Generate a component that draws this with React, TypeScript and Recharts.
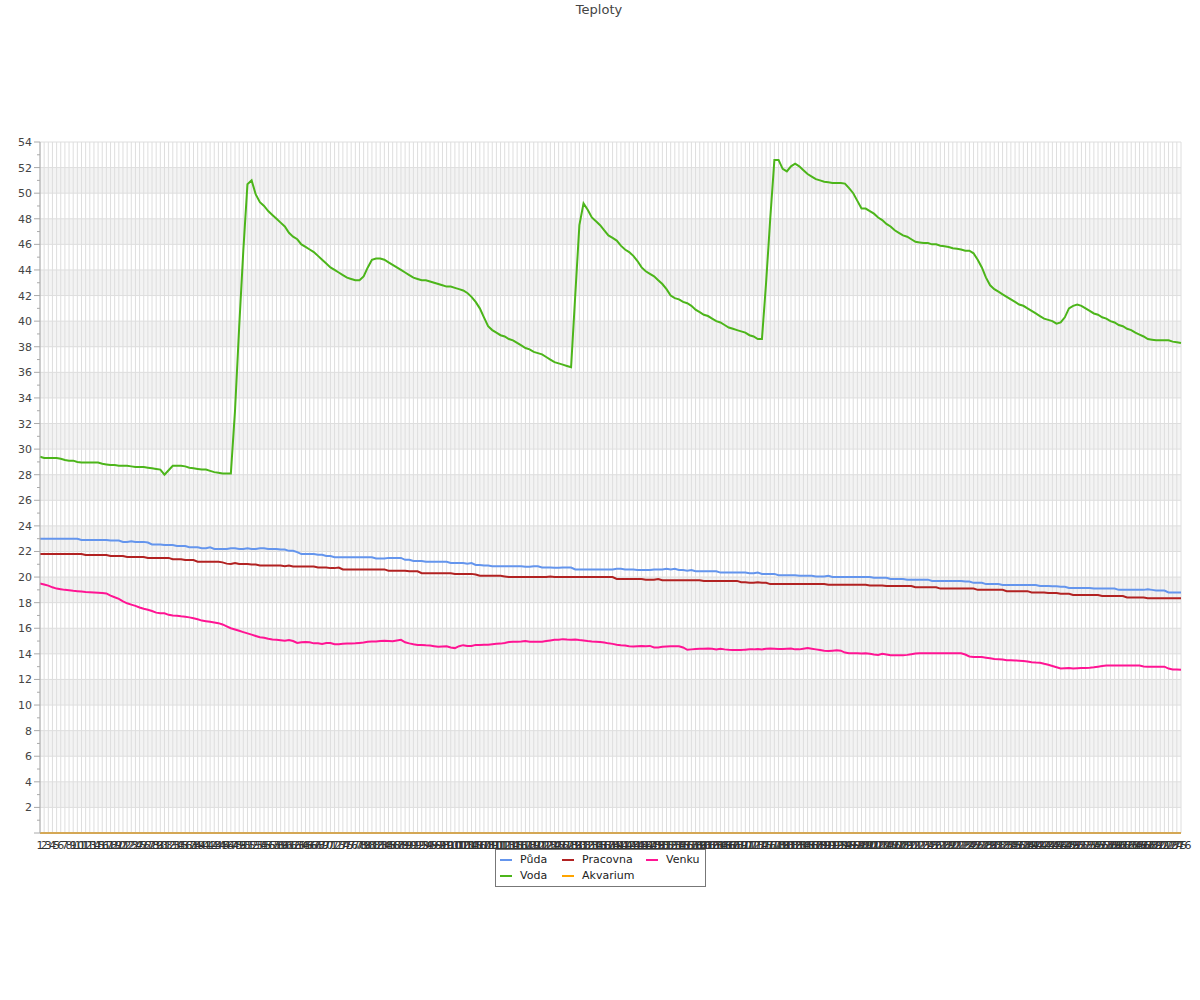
import React from 'react';
import { CartesianGrid, Legend, Line, LineChart, XAxis, YAxis } from 'recharts';

// one reading per category, labels are the sample number
const labels: number[] = Array.from({ length: 276 }, (_, i) => i + 1);

const puda: number[] = [
  23.0, 23.0, 23.0, 23.0, 23.0, 23.0, 23.0, 23.0, 23.0, 23.0,
  22.9, 22.9, 22.9, 22.9, 22.9, 22.9, 22.9, 22.85, 22.85, 22.85,
  22.75, 22.75, 22.8, 22.75, 22.75, 22.75, 22.7, 22.55, 22.55, 22.55,
  22.5, 22.5, 22.5, 22.43, 22.43, 22.43, 22.33, 22.33, 22.33, 22.25,
  22.25, 22.33, 22.2, 22.2, 22.2, 22.2, 22.25, 22.25, 22.2, 22.2,
  22.25, 22.2, 22.2, 22.25, 22.25, 22.2, 22.2, 22.2, 22.15, 22.15,
  22.05, 22.05, 21.95, 21.8, 21.8, 21.8, 21.8, 21.75, 21.75, 21.65,
  21.65, 21.55, 21.55, 21.55, 21.55, 21.55, 21.55, 21.55, 21.55, 21.55,
  21.55, 21.45, 21.45, 21.45, 21.5, 21.5, 21.5, 21.5, 21.35, 21.35,
  21.25, 21.25, 21.25, 21.2, 21.2, 21.2, 21.2, 21.2, 21.2, 21.1,
  21.1, 21.1, 21.1, 21.05, 21.1, 20.95, 20.95, 20.9, 20.9, 20.85,
  20.85, 20.85, 20.85, 20.85, 20.85, 20.85, 20.85, 20.8, 20.8, 20.85,
  20.85, 20.75, 20.75, 20.75, 20.72, 20.72, 20.75, 20.75, 20.75, 20.6,
  20.6, 20.6, 20.6, 20.6, 20.6, 20.6, 20.6, 20.6, 20.6, 20.65,
  20.65, 20.6, 20.6, 20.6, 20.55, 20.55, 20.55, 20.55, 20.6, 20.6,
  20.6, 20.65, 20.6, 20.65, 20.55, 20.55, 20.5, 20.55, 20.45, 20.45,
  20.45, 20.45, 20.45, 20.45, 20.35, 20.35, 20.35, 20.35, 20.35, 20.35,
  20.35, 20.3, 20.3, 20.35, 20.25, 20.25, 20.25, 20.25, 20.15, 20.15,
  20.15, 20.15, 20.15, 20.1, 20.1, 20.1, 20.1, 20.05, 20.05, 20.05,
  20.1, 20.0, 20.0, 20.0, 20.0, 20.0, 20.0, 20.0, 20.0, 20.0,
  20.0, 19.95, 19.95, 19.95, 19.95, 19.85, 19.85, 19.85, 19.85, 19.8,
  19.8, 19.8, 19.8, 19.8, 19.8, 19.7, 19.7, 19.7, 19.7, 19.7,
  19.7, 19.7, 19.7, 19.65, 19.65, 19.55, 19.55, 19.55, 19.45, 19.45,
  19.45, 19.45, 19.38, 19.38, 19.38, 19.38, 19.38, 19.38, 19.38, 19.38,
  19.38, 19.3, 19.3, 19.3, 19.28, 19.28, 19.25, 19.25, 19.15, 19.15,
  19.15, 19.15, 19.15, 19.15, 19.1, 19.1, 19.1, 19.1, 19.1, 19.1,
  19.0, 19.0, 19.0, 19.0, 19.0, 19.0, 19.0, 19.05, 19.0, 18.95,
  18.95, 18.95, 18.8, 18.8, 18.8, 18.8,
];

const pracovna: number[] = [
  21.8, 21.8, 21.8, 21.8, 21.8, 21.8, 21.8, 21.8, 21.8, 21.8,
  21.8, 21.73, 21.73, 21.73, 21.73, 21.73, 21.73, 21.65, 21.65, 21.65,
  21.65, 21.57, 21.57, 21.57, 21.57, 21.57, 21.5, 21.5, 21.5, 21.5,
  21.5, 21.5, 21.4, 21.4, 21.4, 21.33, 21.33, 21.33, 21.2, 21.2,
  21.2, 21.2, 21.2, 21.2, 21.15, 21.05, 21.02, 21.1, 21.02, 21.02,
  21.02, 20.98, 20.98, 20.9, 20.9, 20.9, 20.9, 20.9, 20.9, 20.85,
  20.9, 20.83, 20.83, 20.83, 20.83, 20.83, 20.83, 20.75, 20.75, 20.75,
  20.7, 20.7, 20.75, 20.6, 20.6, 20.6, 20.6, 20.6, 20.6, 20.6,
  20.6, 20.6, 20.6, 20.6, 20.5, 20.5, 20.5, 20.5, 20.5, 20.45,
  20.45, 20.45, 20.3, 20.3, 20.3, 20.3, 20.3, 20.3, 20.3, 20.3,
  20.25, 20.25, 20.25, 20.25, 20.25, 20.2, 20.1, 20.1, 20.1, 20.1,
  20.1, 20.1, 20.05, 20.0, 20.0, 20.0, 20.0, 20.0, 20.0, 20.0,
  20.0, 20.0, 20.0, 20.05, 20.0, 20.0, 20.0, 20.0, 20.0, 20.0,
  20.0, 20.0, 20.0, 20.0, 20.0, 20.0, 20.0, 20.0, 20.0, 19.85,
  19.85, 19.85, 19.85, 19.85, 19.85, 19.85, 19.8, 19.8, 19.8, 19.85,
  19.75, 19.75, 19.75, 19.75, 19.75, 19.75, 19.75, 19.75, 19.75, 19.75,
  19.7, 19.7, 19.7, 19.7, 19.7, 19.7, 19.7, 19.7, 19.7, 19.6,
  19.6, 19.55, 19.55, 19.6, 19.55, 19.55, 19.45, 19.45, 19.45, 19.45,
  19.45, 19.45, 19.45, 19.45, 19.45, 19.45, 19.45, 19.45, 19.45, 19.45,
  19.4, 19.4, 19.4, 19.4, 19.4, 19.4, 19.4, 19.4, 19.4, 19.4,
  19.35, 19.35, 19.35, 19.35, 19.3, 19.3, 19.3, 19.3, 19.3, 19.3,
  19.3, 19.2, 19.2, 19.2, 19.2, 19.2, 19.2, 19.1, 19.1, 19.1,
  19.1, 19.1, 19.1, 19.1, 19.1, 19.1, 19.0, 19.0, 19.0, 19.0,
  19.0, 19.0, 19.0, 18.9, 18.9, 18.9, 18.9, 18.9, 18.9, 18.8,
  18.8, 18.8, 18.8, 18.75, 18.75, 18.75, 18.7, 18.7, 18.7, 18.6,
  18.6, 18.6, 18.6, 18.6, 18.6, 18.6, 18.52, 18.52, 18.52, 18.52,
  18.52, 18.52, 18.4, 18.4, 18.4, 18.4, 18.4, 18.34, 18.34, 18.34,
  18.34, 18.34, 18.34, 18.34, 18.34, 18.34,
];

const venku: number[] = [
  19.5, 19.42, 19.33, 19.2, 19.1, 19.05, 19.0, 18.97, 18.93, 18.9,
  18.87, 18.84, 18.82, 18.8, 18.78, 18.75, 18.72, 18.55, 18.42, 18.3,
  18.1, 17.95, 17.85, 17.75, 17.62, 17.52, 17.45, 17.35, 17.22, 17.18,
  17.17, 17.05, 17.0, 16.97, 16.93, 16.9, 16.85, 16.78, 16.7, 16.6,
  16.55, 16.5, 16.45, 16.4, 16.3, 16.15, 16.0, 15.9, 15.8, 15.7,
  15.6, 15.5, 15.4, 15.3, 15.25, 15.18, 15.12, 15.1, 15.07, 15.02,
  15.08, 15.0, 14.85, 14.9, 14.92, 14.9, 14.82, 14.82, 14.78, 14.85,
  14.85, 14.75, 14.75, 14.78, 14.8, 14.8, 14.82, 14.85, 14.88, 14.95,
  14.97, 14.97, 15.0, 15.02, 15.0, 14.98, 15.05, 15.1, 14.9, 14.82,
  14.75, 14.7, 14.7, 14.67, 14.65, 14.6, 14.55, 14.58, 14.6, 14.5,
  14.45, 14.6, 14.68, 14.62, 14.62, 14.7, 14.7, 14.72, 14.72, 14.75,
  14.78, 14.8, 14.85, 14.92, 14.95, 14.95, 14.97, 15.0, 14.95, 14.95,
  14.95, 14.95, 15.0, 15.05, 15.1, 15.1, 15.15, 15.12, 15.1, 15.12,
  15.08, 15.05, 15.0, 14.97, 14.95, 14.92, 14.88, 14.82, 14.78, 14.72,
  14.68, 14.65, 14.6, 14.58, 14.6, 14.62, 14.6, 14.62, 14.5, 14.5,
  14.55, 14.58, 14.6, 14.6, 14.6, 14.5, 14.32, 14.35, 14.38, 14.4,
  14.4, 14.42, 14.4, 14.35, 14.4, 14.35, 14.32, 14.3, 14.3, 14.3,
  14.33, 14.35, 14.35, 14.38, 14.35, 14.4, 14.42, 14.4, 14.38, 14.38,
  14.4, 14.42, 14.35, 14.35, 14.4, 14.45, 14.4, 14.35, 14.3, 14.25,
  14.22, 14.25, 14.28, 14.25, 14.1, 14.05, 14.05, 14.05, 14.02, 14.05,
  14.0, 13.95, 13.92, 14.0, 13.95, 13.9, 13.9, 13.9, 13.9, 13.92,
  13.97, 14.02, 14.05, 14.05, 14.05, 14.05, 14.05, 14.05, 14.05, 14.05,
  14.05, 14.05, 14.05, 13.95, 13.8, 13.75, 13.75, 13.75, 13.7, 13.65,
  13.6, 13.58, 13.55, 13.5, 13.5, 13.48, 13.47, 13.45, 13.4, 13.35,
  13.32, 13.3, 13.22, 13.15, 13.05, 12.95, 12.85, 12.88, 12.9, 12.85,
  12.88, 12.9, 12.9, 12.92, 12.95, 13.0, 13.05, 13.08, 13.08, 13.08,
  13.08, 13.08, 13.08, 13.08, 13.08, 13.08, 13.02, 13.0, 13.0, 13.0,
  13.0, 13.0, 12.85, 12.78, 12.77, 12.76,
];

const voda: number[] = [
  29.4, 29.3, 29.3, 29.3, 29.3, 29.25, 29.15, 29.1, 29.1, 29.0,
  28.95, 28.95, 28.95, 28.95, 28.95, 28.85, 28.8, 28.75, 28.75, 28.7,
  28.7, 28.7, 28.65, 28.6, 28.6, 28.6, 28.55, 28.5, 28.45, 28.4,
  28.0, 28.35, 28.7, 28.7, 28.7, 28.65, 28.55, 28.5, 28.45, 28.4,
  28.4, 28.3, 28.2, 28.15, 28.1, 28.1, 28.1, 33.0, 39.5, 45.5,
  50.7, 51.0, 49.9, 49.3, 49.0, 48.6, 48.3, 48.0, 47.7, 47.4,
  46.9, 46.6, 46.4, 46.0, 45.8, 45.6, 45.4, 45.1, 44.8, 44.5,
  44.2, 44.0, 43.8, 43.6, 43.4, 43.3, 43.2, 43.2, 43.5, 44.2,
  44.8, 44.9, 44.9, 44.8, 44.6, 44.4, 44.2, 44.0, 43.8, 43.6,
  43.4, 43.3, 43.2, 43.2, 43.1, 43.0, 42.9, 42.8, 42.7, 42.7,
  42.6, 42.5, 42.4, 42.2, 41.9, 41.5, 41.0, 40.3, 39.6, 39.3,
  39.1, 38.9, 38.8, 38.6, 38.5, 38.3, 38.1, 37.9, 37.8, 37.6,
  37.5, 37.4, 37.2, 37.0, 36.8, 36.7, 36.6, 36.5, 36.4, 42.0,
  47.5, 49.2, 48.7, 48.1, 47.8, 47.5, 47.1, 46.7, 46.5, 46.3,
  45.9, 45.6, 45.4, 45.1, 44.7, 44.2, 43.9, 43.7, 43.5, 43.2,
  42.9, 42.5, 42.0, 41.8, 41.7, 41.5, 41.4, 41.2, 40.9, 40.7,
  40.5, 40.4, 40.2, 40.0, 39.9, 39.7, 39.5, 39.4, 39.3, 39.2,
  39.1, 38.9, 38.8, 38.6, 38.6, 43.0, 48.0, 52.6, 52.6, 51.9,
  51.7, 52.1, 52.3, 52.1, 51.8, 51.5, 51.3, 51.1, 51.0, 50.9,
  50.85, 50.8, 50.8, 50.8, 50.75, 50.4, 50.0, 49.4, 48.8, 48.8,
  48.6, 48.4, 48.1, 47.9, 47.6, 47.4, 47.1, 46.9, 46.7, 46.6,
  46.4, 46.2, 46.15, 46.1, 46.1, 46.0, 46.0, 45.9, 45.85, 45.8,
  45.7, 45.65, 45.6, 45.5, 45.5, 45.3, 44.8, 44.2, 43.4, 42.8,
  42.5, 42.3, 42.1, 41.9, 41.7, 41.5, 41.3, 41.2, 41.0, 40.8,
  40.6, 40.4, 40.2, 40.1, 40.0, 39.8, 39.9, 40.3, 41.0, 41.2,
  41.3, 41.2, 41.0, 40.8, 40.6, 40.5, 40.3, 40.2, 40.0, 39.9,
  39.7, 39.6, 39.4, 39.3, 39.1, 38.95, 38.8, 38.6, 38.55, 38.5,
  38.5, 38.5, 38.5, 38.4, 38.35, 38.3,
];

const akvarium: number[] = [
  0, 0, 0, 0, 0, 0, 0, 0, 0, 0, 0, 0, 0, 0, 0, 0, 0, 0, 0, 0,
  0, 0, 0, 0, 0, 0, 0, 0, 0, 0, 0, 0, 0, 0, 0, 0, 0, 0, 0, 0,
  0, 0, 0, 0, 0, 0, 0, 0, 0, 0, 0, 0, 0, 0, 0, 0, 0, 0, 0, 0,
  0, 0, 0, 0, 0, 0, 0, 0, 0, 0, 0, 0, 0, 0, 0, 0, 0, 0, 0, 0,
  0, 0, 0, 0, 0, 0, 0, 0, 0, 0, 0, 0, 0, 0, 0, 0, 0, 0, 0, 0,
  0, 0, 0, 0, 0, 0, 0, 0, 0, 0, 0, 0, 0, 0, 0, 0, 0, 0, 0, 0,
  0, 0, 0, 0, 0, 0, 0, 0, 0, 0, 0, 0, 0, 0, 0, 0, 0, 0, 0, 0,
  0, 0, 0, 0, 0, 0, 0, 0, 0, 0, 0, 0, 0, 0, 0, 0, 0, 0, 0, 0,
  0, 0, 0, 0, 0, 0, 0, 0, 0, 0, 0, 0, 0, 0, 0, 0, 0, 0, 0, 0,
  0, 0, 0, 0, 0, 0, 0, 0, 0, 0, 0, 0, 0, 0, 0, 0, 0, 0, 0, 0,
  0, 0, 0, 0, 0, 0, 0, 0, 0, 0, 0, 0, 0, 0, 0, 0, 0, 0, 0, 0,
  0, 0, 0, 0, 0, 0, 0, 0, 0, 0, 0, 0, 0, 0, 0, 0, 0, 0, 0, 0,
  0, 0, 0, 0, 0, 0, 0, 0, 0, 0, 0, 0, 0, 0, 0, 0, 0, 0, 0, 0,
  0, 0, 0, 0, 0, 0, 0, 0, 0, 0, 0, 0, 0, 0, 0, 0,
];

// y axis: labelled every 2 degrees, small marks on the odd ones
const yTicks: number[] = [
  0, 1, 2, 3, 4, 5, 6, 7, 8, 9, 10, 11, 12, 13, 14, 15, 16, 17, 18, 19, 20,
  21, 22, 23, 24, 25, 26, 27, 28, 29, 30, 31, 32, 33, 34, 35, 36, 37, 38, 39,
  40, 41, 42, 43, 44, 45, 46, 47, 48, 49, 50, 51, 52, 53, 54,
];
const gridValues: number[] = [
  0, 2, 4, 6, 8, 10, 12, 14, 16, 18, 20, 22, 24, 26, 28, 30, 32, 34, 36, 38,
  40, 42, 44, 46, 48, 50, 52, 54,
];

// legend reads in series order, not alphabetically
const legendOrder: string[] = ['Půda', 'Pracovna', 'Venku', 'Voda', 'Akvarium'];

const data = labels.map((n, i) => ({
  n,
  puda: puda[i],
  pracovna: pracovna[i],
  venku: venku[i],
  voda: voda[i],
  akvarium: akvarium[i],
}));

const AXIS = '#aaaaaa';
const FONT = '"DejaVu Sans", sans-serif';

const YTick = (props: any) => {
  const { x, y, payload } = props;
  const v = payload.value as number;
  const major = v % 2 === 0;
  // x is where the label ends: axis line sits 8px to the right
  const axisX = x + 8;
  return (
    <g>
      <line x1={axisX - (major ? 6 : 3)} x2={axisX} y1={y} y2={y} stroke={AXIS} />
      {major && v > 0 && (
        <text x={x} y={y} dy={4} textAnchor="end" fontSize={11} fill="#444" fontFamily={FONT}>
          {v}
        </text>
      )}
    </g>
  );
};

const LegendBox = (props: any) => {
  const payload = [...(props.payload || [])].sort(
    (a: any, b: any) => legendOrder.indexOf(a.value) - legendOrder.indexOf(b.value)
  );
  return (
    <div
      style={{
        display: 'grid',
        gridTemplateColumns: '62px 84px 55px',
        width: 211,
        boxSizing: 'border-box',
        border: '1px solid #777',
        background: '#fff',
        padding: '2px 4px',
        fontSize: 11,
        lineHeight: '16px',
        color: '#222',
        fontFamily: FONT,
      }}
    >
      {payload.map((p: any) => (
        <div key={p.value} style={{ display: 'flex', alignItems: 'center', whiteSpace: 'nowrap' }}>
          <span
            style={{ display: 'inline-block', flexShrink: 0, width: 12, height: 2, background: p.color, marginRight: 8 }}
          />
          {p.value}
        </div>
      ))}
    </div>
  );
};

export default function App() {
  return (
    <div style={{ position: 'absolute', left: 0, top: 0, width: 1200, height: 1000, background: '#fff', fontFamily: FONT }}>
      <div style={{ position: 'absolute', top: 2, left: 0, width: 1198, textAlign: 'center', fontSize: 13, color: '#444' }}>
        Teploty
      </div>
      <LineChart
        width={1200}
        height={1000}
        data={data}
        margin={{ top: 142, right: 19, bottom: 137, left: 0 }}
        style={{ fontFamily: FONT }}
      >
        <CartesianGrid
          stroke="#dedede"
          horizontalValues={gridValues}
          horizontalFill={['#ffffff', '#f3f3f3']}
        />
        <XAxis
          dataKey="n"
          interval={0}
          tickLine={false}
          tickSize={6}
          axisLine={{ stroke: AXIS }}
          tick={{ fontSize: 11, fill: '#333', fontFamily: FONT }}
        />
        <YAxis
          width={40}
          domain={[0, 54]}
          ticks={yTicks}
          interval={0}
          tickSize={6}
          tickLine={false}
          axisLine={{ stroke: AXIS }}
          tick={<YTick />}
        />
        <Legend
          layout="horizontal"
          align="center"
          verticalAlign="middle"
          content={<LegendBox />}
          wrapperStyle={{ left: 495, top: 849, width: 211, height: 37 }}
        />
        <Line type="linear" dataKey="puda" name="Půda" stroke="#6495ed" strokeWidth={2} dot={false} isAnimationActive={false} />
        <Line type="linear" dataKey="pracovna" name="Pracovna" stroke="#b22222" strokeWidth={2} dot={false} isAnimationActive={false} />
        <Line type="linear" dataKey="venku" name="Venku" stroke="#ff1493" strokeWidth={2} dot={false} isAnimationActive={false} />
        <Line type="linear" dataKey="voda" name="Voda" stroke="#4cb51a" strokeWidth={2} dot={false} isAnimationActive={false} />
        <Line type="linear" dataKey="akvarium" name="Akvarium" stroke="#ffa500" strokeWidth={2} dot={false} isAnimationActive={false} />
      </LineChart>
    </div>
  );
}
